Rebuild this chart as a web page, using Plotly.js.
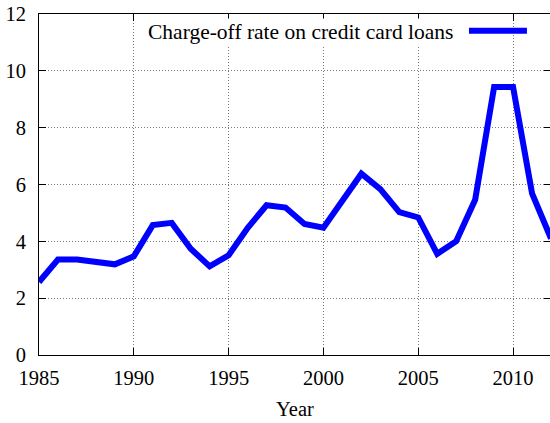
<!DOCTYPE html>
<html>
<head>
<meta charset="utf-8">
<script src="https://cdn.plot.ly/plotly-3.0.1.min.js"></script>
<style>
html,body{margin:0;padding:0;overflow:hidden;background:#fff;}
#chart{width:551px;height:423px;}
</style>
</head>
<body>
<div id="chart"></div>
<script>
const years = [1985,1986,1987,1988,1989,1990,1991,1992,1993,1994,1995,1996,1997,1998,1999,2000,2001,2002,2003,2004,2005,2006,2007,2008,2009,2010,2011,2012];
const chargeOffRate = [2.57,3.36,3.36,3.27,3.19,3.47,4.57,4.65,3.74,3.12,3.51,4.47,5.27,5.19,4.61,4.48,5.40,6.38,5.84,5.03,4.84,3.56,4.00,5.46,9.43,9.43,5.69,4.10];
const seriesName = "Charge-off rate on credit card loans";
const xTitle = "Year";

const fam = "Liberation Serif, Times New Roman, serif";
const font = {family: fam, size: 20.5, color: "#000"};
const legendFont = {family: fam, size: 21.5, color: "#000"};

const trace = {
  x: years, y: chargeOffRate, type: "scatter", mode: "lines",
  name: seriesName,
  line: {color: "#0000ff", width: 6, shape: "linear"},
  showlegend: false, hoverinfo: "skip"
};

const layout = {
  width: 551, height: 423,
  margin: {l: 39, r: 0, t: 14, b: 68, pad: 0},
  paper_bgcolor: "#fff", plot_bgcolor: "#fff",
  font: font,
  xaxis: {
    range: [1985, 2012], tick0: 1985, dtick: 5,
    showline: true, linecolor: "#000", linewidth: 1, mirror: "ticks",
    ticks: "inside", ticklen: 7, tickcolor: "#000", tickwidth: 1,
    showgrid: true, gridcolor: "#777", griddash: "1px,2px", gridwidth: 1,
    zeroline: false, tickfont: font, ticklabelstandoff: 4,
    title: {text: xTitle, font: font, standoff: 14}
  },
  yaxis: {
    range: [0, 12], tick0: 0, dtick: 2,
    showline: true, linecolor: "#000", linewidth: 1, mirror: "ticks",
    ticks: "inside", ticklen: 7, tickcolor: "#000", tickwidth: 1,
    showgrid: true, gridcolor: "#777", griddash: "1px,2px", gridwidth: 1,
    zeroline: false, tickfont: font, ticklabelstandoff: 8
  },
  annotations: [{
    xref: "paper", yref: "paper", x: 0.8125, y: 0.947,
    xanchor: "right", yanchor: "middle", showarrow: false,
    text: seriesName, font: legendFont, bgcolor: "#fff"
  }],
  shapes: [{
    type: "line", xref: "paper", yref: "paper",
    x0: 0.8398, x1: 0.953, y0: 0.951, y1: 0.951,
    line: {color: "#0000ff", width: 6}
  }]
};

Plotly.newPlot("chart", [trace], layout, {staticPlot: true, displayModeBar: false});
</script>
</body>
</html>
